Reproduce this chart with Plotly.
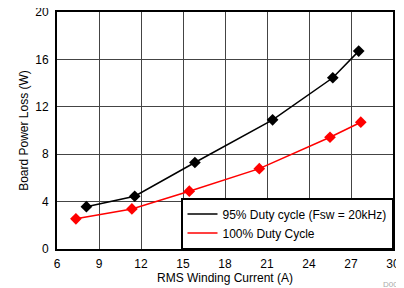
import plotly.graph_objects as go

x_95 = [8.1, 11.55, 15.85, 21.4, 25.7, 27.55]
y_95 = [3.57, 4.45, 7.3, 10.9, 14.45, 16.7]
x_100 = [7.35, 11.35, 15.45, 20.45, 25.5, 27.7]
y_100 = [2.55, 3.38, 4.88, 6.78, 9.43, 10.7]

x_ticks = [6, 9, 12, 15, 18, 21, 24, 27, 30]
y_ticks = [0, 4, 8, 12, 16, 20]

FAM = "Liberation Sans, Arial, sans-serif"
font = dict(family=FAM, size=12, color="black")

fig = go.Figure()
series = [
    (x_95, y_95, "95% Duty cycle (Fsw = 20kHz)", "black"),
    (x_100, y_100, "100% Duty Cycle", "#ff0000"),
]
for xs, ys, name, col in series:
    fig.add_trace(go.Scatter(x=xs, y=ys, mode="lines", name=name, legendgroup=name,
                             line=dict(color=col, width=1.5)))
    fig.add_trace(go.Scatter(x=xs, y=ys, mode="markers", name=name, legendgroup=name,
                             showlegend=False,
                             marker=dict(symbol="diamond", size=9, color=col)))

# page body has an 8px default margin, so the figure is 396x280 placed at (8, 8)
fig.update_layout(
    width=396, height=280,
    margin=dict(l=49, r=11, t=4, b=39),
    paper_bgcolor="white", plot_bgcolor="white",
    font=font,
    showlegend=True,
    legend=dict(x=1, y=0, xanchor="right", yanchor="bottom",
                bgcolor="white", bordercolor="black", borderwidth=1.5,
                font=dict(family=FAM, size=12, color="black"),
                tracegroupgap=0, itemwidth=30, entrywidth=203),
    xaxis=dict(range=[6, 30], tickvals=x_ticks,
               ticktext=[str(v) for v in x_ticks],
               showgrid=True, gridcolor="#444444", gridwidth=1,
               showline=True, linecolor="black", linewidth=2, mirror=True,
               zeroline=False, ticks="outside", ticklen=3, tickcolor="rgba(0,0,0,0)",
               automargin=False, ticklabeloverflow="allow",
               title=dict(text="RMS Winding Current (A)", standoff=2,
                          font=dict(family=FAM, size=12))),
    yaxis=dict(range=[0, 20], tickvals=y_ticks,
               ticktext=[str(v) for v in y_ticks],
               showgrid=True, gridcolor="#444444", gridwidth=1,
               showline=True, linecolor="black", linewidth=2, mirror=True,
               zeroline=False, ticks="outside", ticklen=4, tickcolor="rgba(0,0,0,0)",
               automargin=False, ticklabeloverflow="allow",
               title=dict(text="Board Power Loss (W)", standoff=4,
                          font=dict(family=FAM, size=12))),
    annotations=[dict(text="D001", xref="paper", yref="paper", x=1.035, y=-0.148,
                      xanchor="right", yanchor="middle", showarrow=False,
                      font=dict(family=FAM, size=8, color="#aaaaaa"))],
)

fig.write_html("out.html", config={"displayModeBar": False})
